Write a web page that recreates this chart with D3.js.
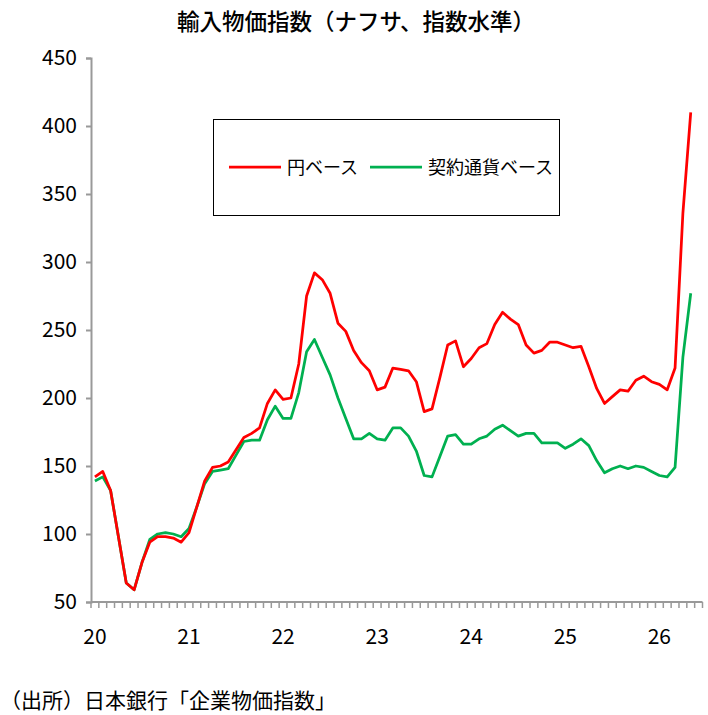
<!DOCTYPE html>
<html>
<head>
<meta charset="utf-8">
<script src="https://cdn.jsdelivr.net/npm/d3@7"></script>
<style>
  body { margin: 0; background: #fff; }
  text { font-family: "Noto Sans CJK JP", "Noto Sans", sans-serif; }
</style>
</head>
<body>
<svg id="chart" width="708" height="715"></svg>
<script>
// monthly values, Jan 2020 .. May 2026 (axis runs to Jun 2026)
const yenBase = [142, 146, 132, 98, 64, 59, 79, 94, 98, 98, 97, 94,
  101, 120, 139, 149, 150, 153, 162, 171, 174, 178, 196, 206,
  199, 200, 225, 275, 292, 287, 277, 255, 249, 235, 226, 220,
  206, 208, 222, 221, 220, 212, 190, 192, 215, 239, 242, 223,
  229, 237, 240, 254, 263, 258, 254, 239, 233, 235, 241, 241,
  239, 237, 238, 223, 207, 196, 201, 206, 205, 213, 216, 212,
  210, 206, 222, 336, 410];
const contractBase = [139, 142, 132, 98, 64, 59, 79, 96, 100, 101, 100, 98,
  104, 120, 137, 146, 147, 148, 158, 168, 169, 169, 184, 194,
  185, 185, 204, 234, 243, 230, 217, 200, 185, 170, 170, 174,
  170, 169, 178, 178, 172, 161, 143, 142, 157, 172, 173, 166,
  166, 170, 172, 177, 180, 176, 172, 174, 174, 167, 167, 167,
  163, 166, 170, 165, 154, 145, 148, 150, 148, 150, 149, 146,
  143, 142, 149, 230, 277];
const yearLabels = ['20', '21', '22', '23', '24', '25', '26'];
const yTicks = [50, 100, 150, 200, 250, 300, 350, 400, 450];
const seriesNames = ['円ベース', '契約通貨ベース'];
const seriesColors = ['#ff0000', '#00b050'];

const nMonths = 78;
const months = d3.range(nMonths);

const svg = d3.select('#chart');
const plotLeft = 91, plotRight = 702.5, plotTop = 58, plotBottom = 602;

const x = d3.scaleBand().domain(months).range([plotLeft, plotRight]).paddingInner(0).paddingOuter(0);
const y = d3.scaleLinear().domain([50, 450]).range([plotBottom, plotTop]);
const cx = (i) => x(i) + x.bandwidth() / 2;

svg.append('text')
  .attr('x', 356).attr('y', 30)
  .attr('text-anchor', 'middle')
  .attr('font-size', '22.5px')
  .attr('font-weight', 500)
  .text('輸入物価指数（ナフサ、指数水準）');

// y axis
const yAxis = svg.append('g')
  .attr('transform', `translate(${plotLeft},0)`)
  .call(d3.axisLeft(y).tickValues(yTicks).tickSize(5).tickPadding(9));
yAxis.select('.domain').attr('stroke', '#999').attr('stroke-width', 2);
yAxis.selectAll('.tick line').attr('stroke', '#999').attr('stroke-width', 2);
yAxis.selectAll('.tick text').attr('font-size', '21px').attr('fill', '#000')
  .attr('font-family', '"Noto Sans CJK JP", sans-serif');

// x axis: minor ticks at every month boundary
const xg = svg.append('g');
xg.append('line')
  .attr('x1', plotLeft).attr('x2', plotRight)
  .attr('y1', plotBottom).attr('y2', plotBottom)
  .attr('stroke', '#999').attr('stroke-width', 2);
xg.selectAll('line.tk').data(d3.range(nMonths + 1)).enter()
  .append('line')
  .attr('class', 'tk')
  .attr('x1', (d) => plotLeft + d * x.bandwidth())
  .attr('x2', (d) => plotLeft + d * x.bandwidth())
  .attr('y1', plotBottom).attr('y2', plotBottom + 6)
  .attr('stroke', '#999').attr('stroke-width', 1.5);
xg.selectAll('text').data(yearLabels).enter()
  .append('text')
  .attr('x', (d, i) => cx(i * 12))
  .attr('y', 644)
  .attr('text-anchor', 'middle')
  .attr('font-size', '21px')
  .text((d) => d);

// lines
const line = d3.line()
  .x((d, i) => cx(i))
  .y((d) => y(d));

[contractBase, yenBase].forEach((s, k) => {
  svg.append('path')
    .datum(s)
    .attr('fill', 'none')
    .attr('stroke', k === 0 ? seriesColors[1] : seriesColors[0])
    .attr('stroke-width', 2.75)
    .attr('stroke-linejoin', 'round')
    .attr('d', line);
});

// legend
const lg = svg.append('g');
lg.append('rect')
  .attr('x', 213.5).attr('y', 119.5)
  .attr('width', 346).attr('height', 96)
  .attr('fill', '#fff').attr('stroke', '#000').attr('stroke-width', 1);
const legendX = [229, 370];
seriesNames.forEach((name, i) => {
  lg.append('line')
    .attr('x1', legendX[i]).attr('x2', legendX[i] + 52)
    .attr('y1', 167).attr('y2', 167)
    .attr('stroke', seriesColors[i]).attr('stroke-width', 2.75);
  lg.append('text')
    .attr('x', legendX[i] + 58).attr('y', 174)
    .attr('font-size', '18px')
    .text(name);
});

svg.append('text')
  .attr('x', 0).attr('y', 708)
  .attr('font-size', '21px')
  .text('（出所）日本銀行「企業物価指数」');
</script>
</body>
</html>
